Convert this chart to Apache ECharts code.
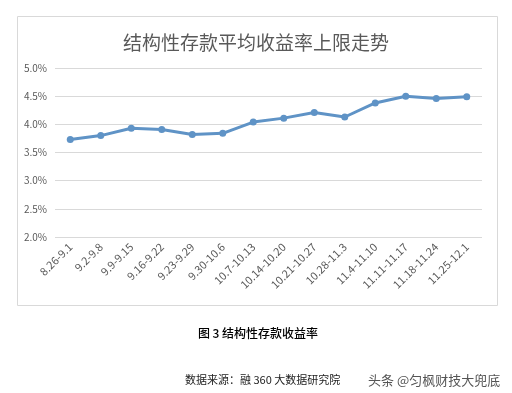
<!DOCTYPE html>
<html><head><meta charset="utf-8">
<script src="https://cdn.jsdelivr.net/npm/echarts@6/dist/echarts.min.js"></script>
<style>html,body{margin:0;padding:0;background:#fff}#c{width:512px;height:393px}</style>
</head><body><div id="c"></div>
<script>
const categories = ['8.26-9.1','9.2-9.8','9.9-9.15','9.16-9.22','9.23-9.29','9.30-10.6','10.7-10.13','10.14-10.20','10.21-10.27','10.28-11.3','11.4-11.10','11.11-11.17','11.18-11.24','11.25-12.1'];
const rateUpper = [3.73,3.80,3.93,3.91,3.82,3.84,4.04,4.11,4.21,4.13,4.38,4.50,4.46,4.49];
const titleText = '结构性存款平均收益率上限走势';
const captionText = '图 3 结构性存款收益率';
const sourceText = '数据来源：融 360 大数据研究院';
const watermarkText = '头条 @匀枫财技大兜底';

const chart = echarts.init(document.getElementById('c'));
const font = '"Noto Sans CJK SC","Microsoft YaHei",sans-serif';
chart.setOption({
  animation:false,
  title:{text:titleText,left:'center',top:28,textStyle:{fontFamily:font,fontSize:19,fontWeight:'normal',color:'#595959'}},
  grid:{left:55,right:30,top:68,bottom:156},
  xAxis:{type:'category',data:categories,boundaryGap:true,
    axisLine:{show:false},axisTick:{show:false},
    axisLabel:{rotate:45,interval:0,fontSize:11,color:'#595959',fontFamily:font,margin:8}},
  yAxis:{type:'value',min:2,max:5,interval:0.5,
    axisLine:{show:false},axisTick:{show:false},
    splitLine:{lineStyle:{color:'#d9d9d9',width:1}},
    axisLabel:{formatter:v=>v.toFixed(1)+'%',fontSize:10,color:'#595959',fontFamily:font,margin:8}},
  series:[{type:'line',data:rateUpper,symbol:'circle',symbolSize:7,
    lineStyle:{color:'#5f93c6',width:3},itemStyle:{color:'#5f93c6'}}],
  graphic:[
    {type:'rect',shape:{x:17.5,y:16.5,width:480,height:289},style:{fill:'none',stroke:'#d9d9d9',lineWidth:1},z:-1},
    {type:'text',x:258,y:333,style:{text:captionText,font:'500 12px '+font,fill:'#000',align:'center',verticalAlign:'middle'}},
    {type:'text',x:185,y:380,style:{text:sourceText,font:'11px '+font,fill:'#222',align:'left',verticalAlign:'middle'}},
    {type:'text',x:368,y:380,style:{text:watermarkText,font:'13px '+font,fill:'#555',align:'left',verticalAlign:'middle'}}
  ]
});
</script></body></html>
